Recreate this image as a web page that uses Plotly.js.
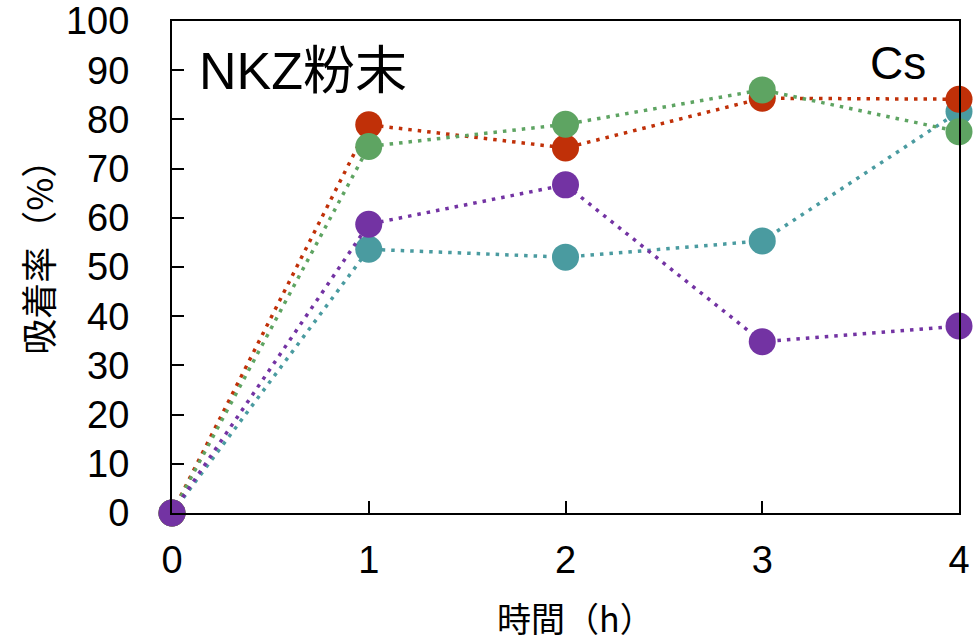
<!DOCTYPE html>
<html><head><meta charset="utf-8">
<script src="https://cdn.plot.ly/plotly-3.0.1.min.js"></script>
<style>html,body{margin:0;padding:0;background:#fff}</style>
</head><body><div id="chart" style="width:979px;height:644px"></div>
<script>
const hours = [0, 1, 2, 3, 4];
const seriesTeal = [0, 53.6, 52.0, 55.3, 81.6];
const seriesRed = [0, 78.9, 74.2, 84.3, 84.1];
const seriesGreen = [0, 74.5, 79.0, 86.0, 77.5];
const seriesPurple = [0, 58.7, 66.7, 34.8, 38.0];
const xTicks = [0, 1, 2, 3, 4];
const yTicks = [0, 10, 20, 30, 40, 50, 60, 70, 80, 90, 100];
const xTitle = '時間（h）';
const yTitle = '吸着率（%）';

function tr(y, color) {
  return {x: hours, y: y, type: 'scatter', mode: 'lines+markers', cliponaxis: false,
    line: {color: color, width: 3.5, dash: '3.5px,6px'},
    marker: {color: color, size: 27}};
}
const data = [tr(seriesTeal, '#4A9BA0'), tr(seriesRed, '#C03008'), tr(seriesGreen, '#5EA462'), tr(seriesPurple, '#7333A3')];
const numFont = {family: 'Liberation Sans, Arial, sans-serif', size: 38, color: '#000'};
const xTitleFont = {family: 'Noto Sans CJK JP, sans-serif', size: 34, color: '#000'};
const yTitleFont = {family: 'Noto Sans CJK JP, sans-serif', size: 36, color: '#000'};
const layout = {
  width: 979, height: 644, showlegend: false,
  paper_bgcolor: '#fff', plot_bgcolor: '#fff',
  margin: {l: 172, r: 20, t: 21, b: 131},
  xaxis: {range: [0, 4], tickvals: xTicks, ticktext: xTicks.map(String), showgrid: false, zeroline: false,
    showline: true, linecolor: '#000', linewidth: 2, mirror: true,
    ticks: 'inside', ticklen: 12, tickwidth: 2, tickcolor: '#000', tickfont: numFont, ticklabelstandoff: 12},
  yaxis: {range: [0, 100], tickvals: yTicks, showgrid: false, zeroline: false,
    showline: true, linecolor: '#000', linewidth: 2, mirror: true,
    ticks: 'inside', ticklen: 12, tickwidth: 2, tickcolor: '#000', tickfont: numFont, ticklabelstandoff: 33},
  annotations: [
    {text: xTitle, xref: 'paper', yref: 'paper', x: 0.513, y: -0.2134, xanchor: 'center', yanchor: 'middle', showarrow: false,
     font: xTitleFont},
    {text: yTitle, xref: 'paper', yref: 'paper', x: -0.1715, y: 0.537, xanchor: 'center', yanchor: 'middle', showarrow: false,
     textangle: -90, font: yTitleFont},
    {text: 'NKZ粉末', xref: 'paper', yref: 'paper', x: 0.032, y: 0.898, xanchor: 'left', yanchor: 'middle', showarrow: false,
     font: {family: 'Liberation Sans, Noto Sans CJK JP, sans-serif', size: 52, color: '#000'}},
    {text: 'Cs', xref: 'paper', yref: 'paper', x: 0.96, y: 0.915, xanchor: 'right', yanchor: 'middle', showarrow: false,
     font: {family: 'Liberation Sans, Arial, sans-serif', size: 46, color: '#000'}}
  ]
};
Plotly.newPlot('chart', data, layout, {displayModeBar: false, staticPlot: true});
</script></body></html>
